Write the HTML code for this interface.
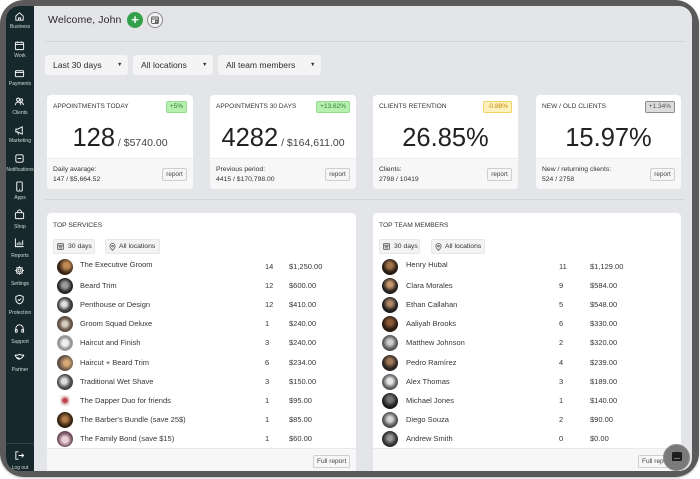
<!DOCTYPE html>
<html><head><meta charset="utf-8"><style>
*{box-sizing:border-box;margin:0;padding:0}
html,body{width:700px;height:479px;overflow:hidden;background:#fff;font-family:"Liberation Sans",Arial,sans-serif;color:#2a2a2a}
.frame{position:absolute;left:0;top:0;width:699px;height:477px;background:#5a5a5a;border-radius:24px;box-shadow:0 1px 2px rgba(0,0,0,.25)}
.screen{position:absolute;left:6px;top:6px;width:686px;height:465px;border-radius:13px;overflow:hidden;background:#e4e5e8}
.abs{position:absolute;left:-6px;top:-6px;width:700px;height:479px}
.a{position:absolute}
.side{position:absolute;left:6px;top:0;width:28px;height:479px;background:#16282b}
.si{position:absolute;left:6px;width:28px;text-align:center;font-size:5px;color:#d4dada;line-height:6px;white-space:nowrap}
.ic{position:absolute;left:14px;width:11px;height:11px}
.hl{position:absolute;left:45px;width:640px;height:1px;background:#d3d4d7}
.dd{position:absolute;top:55px;height:20px;background:#f4f4f5;border-radius:3px;font-size:8.6px;line-height:20px;padding-left:8px;color:#2e2e2e}
.dd i{position:absolute;top:0;font-style:normal;font-size:5.5px;color:#333}
.card{position:absolute;top:95px;width:146px;height:94px;background:#fff;border-radius:4px;overflow:hidden}
.card .t{position:absolute;left:6px;top:7px;font-size:6.5px;line-height:9px;color:#333;letter-spacing:.05px}
.badge{position:absolute;right:6px;top:6px;height:12px;font-size:6.5px;line-height:10px;padding:0 3px;border-radius:2px;border:1px solid}
.big{position:absolute;left:0;top:28px;width:100%;text-align:center;font-size:25.5px;line-height:30px;color:#222;white-space:nowrap}
.big span{font-size:10.5px;color:#444}
.cf{position:absolute;left:0;top:63px;width:100%;height:31px;background:#f7f7f8;border-top:1px solid #ededee}
.cf .l{position:absolute;left:6px;top:6px;font-size:6.8px;line-height:10px;color:#333}
.rep{position:absolute;right:6px;top:9px;width:25px;height:13px;border:1px solid #cfcfd1;background:#f5f5f6;border-radius:2px;font-size:6.3px;line-height:11px;text-align:center;color:#444}
.panel{position:absolute;top:213px;height:270px;background:#fff;border-radius:4px;overflow:hidden}
.ptitle{position:absolute;left:6px;top:7px;font-size:6.7px;line-height:11px;color:#333}
.chip{position:absolute;top:26px;height:15px;background:#f3f3f4;border:1px solid #e7e7e9;border-radius:2px;font-size:6.8px;line-height:13px;color:#333;white-space:nowrap}
.pf{position:absolute;left:0;top:235px;width:100%;height:40px;background:#f7f7f8;border-top:1px solid #e9e9ea}
.fr{position:absolute;top:6px;height:13px;border:1px solid #cfcfd1;background:#f7f7f8;border-radius:2px;font-size:6.5px;line-height:11px;padding:0 3px;color:#444;white-space:nowrap}
.av{position:absolute;width:16px;height:16px;border-radius:50%}
.rt{position:absolute;font-size:7.5px;line-height:12px;color:#353535;white-space:nowrap}
</style></head><body>
<div class="frame"></div>
<div class="screen"><div class="abs">

<!-- sidebar -->
<div class="side"></div>
<div class="a" style="left:6px;top:443px;width:28px;height:1px;background:#304245"></div>

<svg class="ic" style="top:11px" viewBox="0 0 12 12" fill="none" stroke="#fff" stroke-width="1"><path d="M2 5.5L6 2l4 3.5V10H2z"/><path d="M5 10V7.5h2V10"/></svg>
<div class="si" style="top:24px">Business</div>
<svg class="ic" style="top:40px" viewBox="0 0 12 12" fill="none" stroke="#fff" stroke-width="1"><rect x="1.5" y="2.5" width="9" height="8" rx="1"/><path d="M1.5 5h9M4 1.5v2M8 1.5v2"/></svg>
<div class="si" style="top:52.5px">Work</div>
<svg class="ic" style="top:68px" viewBox="0 0 12 12" fill="none" stroke="#fff" stroke-width="1"><rect x="1.5" y="3" width="9" height="6.5" rx="1"/><path d="M1.5 5h9"/></svg>
<div class="si" style="top:81px">Payments</div>
<svg class="ic" style="top:96px" viewBox="0 0 12 12" fill="none" stroke="#fff" stroke-width="1"><circle cx="4.5" cy="4" r="1.7"/><circle cx="8" cy="4.5" r="1.4"/><path d="M1.5 10c0-2 1.3-3.3 3-3.3S7.5 8 7.5 10M7 7c2 0 3.3 1 3.3 3"/></svg>
<div class="si" style="top:109.5px">Clients</div>
<svg class="ic" style="top:125px" viewBox="0 0 12 12" fill="none" stroke="#fff" stroke-width="1"><path d="M2 4.5h2l5-2.5v8L4 7.5H2z"/><path d="M4 7.5l1 3"/></svg>
<div class="si" style="top:138px">Marketing</div>
<svg class="ic" style="top:153px" viewBox="0 0 12 12" fill="none" stroke="#fff" stroke-width="1"><rect x="2" y="2" width="8" height="8" rx="1.5"/><path d="M4 6h4"/></svg>
<div class="si" style="top:167px">Notifications</div>
<svg class="ic" style="top:181px" viewBox="0 0 12 12" fill="none" stroke="#fff" stroke-width="1"><rect x="3" y="1" width="6" height="10" rx="1"/><path d="M5.5 9.3h1"/></svg>
<div class="si" style="top:195px">Apps</div>
<svg class="ic" style="top:209px" viewBox="0 0 12 12" fill="none" stroke="#fff" stroke-width="1"><rect x="1.5" y="4" width="9" height="6.5" rx="1"/><path d="M4 4V3a2 2 0 014 0v1"/></svg>
<div class="si" style="top:224px">Shop</div>
<svg class="ic" style="top:237px" viewBox="0 0 12 12" fill="none" stroke="#fff" stroke-width="1"><path d="M1.5 1.5v9h9"/><path d="M3.5 9V6.5M5.5 9V5M7.5 9V6M9.5 9V3.5"/></svg>
<div class="si" style="top:253px">Reports</div>
<svg class="ic" style="top:265px" viewBox="0 0 12 12" fill="none" stroke="#fff" stroke-width="1"><circle cx="6" cy="6" r="1.7"/><path d="M6 1.3v1.5M6 9.2v1.5M1.3 6h1.5M9.2 6h1.5M2.7 2.7l1 1M8.3 8.3l1 1M2.7 9.3l1-1M8.3 3.7l1-1"/><circle cx="6" cy="6" r="3.4"/></svg>
<div class="si" style="top:281px">Settings</div>
<svg class="ic" style="top:294px" viewBox="0 0 12 12" fill="none" stroke="#fff" stroke-width="1"><path d="M6 1.2l4 1.6v3c0 2.5-1.8 4.2-4 5-2.2-.8-4-2.5-4-5v-3z"/><path d="M4.3 6l1.2 1.2L7.8 5"/></svg>
<div class="si" style="top:310px">Protection</div>
<svg class="ic" style="top:323px" viewBox="0 0 12 12" fill="none" stroke="#fff" stroke-width="1"><path d="M2 8V6a4 4 0 018 0v2"/><rect x="1.5" y="7" width="2" height="3" rx=".5"/><rect x="8.5" y="7" width="2" height="3" rx=".5"/></svg>
<div class="si" style="top:339px">Support</div>
<svg class="ic" style="top:351px" viewBox="0 0 12 12" fill="none" stroke="#fff" stroke-width="1"><path d="M1 4.5h3l2-1 2 1h3M1 4.5l2 3 2 1.5 2-.5 2-1.5 2-2.5M4 7l2 1.5"/></svg>
<div class="si" style="top:367px">Partner</div>
<svg class="ic" style="top:450px" viewBox="0 0 12 12" fill="none" stroke="#fff" stroke-width="1"><path d="M5 2H2v8h3M5 6h5.5M8.5 4l2 2-2 2"/></svg>
<div class="si" style="top:465px">Log out</div>

<!-- header -->
<div class="a" style="left:48px;top:13px;font-size:10.5px;line-height:14px;color:#2a2a2a;letter-spacing:.1px">Welcome, John</div>
<div class="a" style="left:127px;top:12px;width:16px;height:16px;border-radius:50%;background:#33a04a;color:#fff;font-size:13px;line-height:15px;text-align:center;font-weight:bold">+</div>
<div class="a" style="left:147px;top:12px;width:16px;height:16px;border-radius:50%;background:#f2f2f3;border:1px solid #8a8a8a"></div>
<svg class="a" style="left:151px;top:16px;width:8px;height:8px" viewBox="0 0 8 8" fill="none" stroke="#555" stroke-width=".9"><rect x=".6" y="1" width="6.8" height="6.4" rx=".6"/><path d="M.6 3h6.8M4.5 4.5h2v2h-2z"/></svg>
<div class="hl" style="top:41px"></div>

<div class="dd" style="left:45px;width:83px">Last 30 days<i style="left:72px">&#9660;</i></div>
<div class="dd" style="left:133px;width:80px">All locations<i style="left:69px">&#9660;</i></div>
<div class="dd" style="left:218px;width:103px">All team members<i style="left:92px">&#9660;</i></div>

<!-- cards -->
<div class="card" style="left:47px">
 <div class="t">APPOINTMENTS TODAY</div>
 <div class="badge" style="background:#b7efb1;border-color:#95dc8f;color:#2f7d2f">+5%</div>
 <div class="big">128<span> / $5740.00</span></div>
 <div class="cf"><div class="l">Daily avarage:<br>147 / $5,664.52</div><div class="rep">report</div></div>
</div>
<div class="card" style="left:210px">
 <div class="t">APPOINTMENTS 30 DAYS</div>
 <div class="badge" style="background:#b7efb1;border-color:#95dc8f;color:#2f7d2f">+13.62%</div>
 <div class="big">4282<span> / $164,611.00</span></div>
 <div class="cf"><div class="l">Previous period:<br>4415 / $170,798.00</div><div class="rep">report</div></div>
</div>
<div class="card" style="left:373px;width:145px">
 <div class="t">CLIENTS RETENTION</div>
 <div class="badge" style="background:#fdf1bd;border-color:#f0d466;color:#c9850a">-0.88%</div>
 <div class="big">26.85%</div>
 <div class="cf"><div class="l">Clients:<br>2798 / 10419</div><div class="rep">report</div></div>
</div>
<div class="card" style="left:536px;width:145px">
 <div class="t">NEW / OLD CLIENTS</div>
 <div class="badge" style="background:#dcdcdd;border-color:#8d8d8d;color:#555">+1.34%</div>
 <div class="big">15.97%</div>
 <div class="cf"><div class="l">New / returning clients:<br>524 / 2758</div><div class="rep">report</div></div>
</div>

<div class="hl" style="top:199px"></div>

<!-- panels -->
<div class="panel" style="left:47px;width:309px">
 <div class="ptitle">TOP SERVICES</div>
 <div class="chip" style="left:6px;width:42px"><svg style="position:absolute;left:3px;top:3px;width:7px;height:7px" viewBox="0 0 8 8" fill="none" stroke="#555" stroke-width=".9"><rect x=".6" y=".8" width="6.8" height="6.4" rx=".5"/><path d="M.6 2.6h6.8M2 4h4M2 5.6h4"/></svg><span style="position:absolute;left:14px">30 days</span></div>
 <div class="chip" style="left:58px;width:55px"><svg style="position:absolute;left:3px;top:2.5px;width:7px;height:8px" viewBox="0 0 8 9" fill="none" stroke="#555" stroke-width=".9"><path d="M4 8.3S1 5.5 1 3.5a3 3 0 016 0C7 5.5 4 8.3 4 8.3z"/><circle cx="4" cy="3.5" r="1"/></svg><span style="position:absolute;left:13px">All locations</span></div>
 <div class="pf"><div class="fr" style="left:266px">Full report</div></div>
</div>
<div class="panel" style="left:373px;width:308px">
 <div class="ptitle">TOP TEAM MEMBERS</div>
 <div class="chip" style="left:6px;width:41px"><svg style="position:absolute;left:3px;top:3px;width:7px;height:7px" viewBox="0 0 8 8" fill="none" stroke="#555" stroke-width=".9"><rect x=".6" y=".8" width="6.8" height="6.4" rx=".5"/><path d="M.6 2.6h6.8M2 4h4M2 5.6h4"/></svg><span style="position:absolute;left:14px">30 days</span></div>
 <div class="chip" style="left:58px;width:54px"><svg style="position:absolute;left:3px;top:2.5px;width:7px;height:8px" viewBox="0 0 8 9" fill="none" stroke="#555" stroke-width=".9"><path d="M4 8.3S1 5.5 1 3.5a3 3 0 016 0C7 5.5 4 8.3 4 8.3z"/><circle cx="4" cy="3.5" r="1"/></svg><span style="position:absolute;left:13px">All locations</span></div>
 <div class="pf"><div class="fr" style="left:265px">Full report</div></div>
</div>

<!-- services rows -->
<div class="av" style="left:57px;top:259px;background:radial-gradient(circle at 60% 40%,#c08a55 0 20%,#3b2616 55%,#1d130c)"></div>
<div class="av" style="left:57px;top:278px;background:radial-gradient(circle at 50% 45%,#9a9a9a 0 22%,#2b2b2b 55%,#151515)"></div>
<div class="av" style="left:57px;top:297px;background:radial-gradient(circle at 45% 45%,#e0e0e0 0 18%,#444 50%,#1a1a1a)"></div>
<div class="av" style="left:57px;top:316px;background:radial-gradient(circle at 50% 50%,#d8cfc4 0 20%,#6e5c4e 50%,#3a2f28)"></div>
<div class="av" style="left:57px;top:335px;background:radial-gradient(circle at 50% 50%,#f0f0f0 0 25%,#8d8d8d 55%,#e5e5e5)"></div>
<div class="av" style="left:57px;top:355px;background:radial-gradient(circle at 60% 50%,#d7a774 0 20%,#6d5a4a 55%,#3a3a3a)"></div>
<div class="av" style="left:57px;top:374px;background:radial-gradient(circle at 45% 45%,#ddd 0 20%,#555 50%,#1e1e1e)"></div>
<div class="av" style="left:60px;top:395px;width:10px;height:11px;border-radius:2px;background:radial-gradient(circle at 50% 50%,#c0404a 0 25%,#e8d8d8 55%,#fff)"></div>
<div class="av" style="left:57px;top:412px;background:radial-gradient(circle at 50% 45%,#b07b48 0 18%,#3a2512 55%,#1c120a)"></div>
<div class="av" style="left:57px;top:431px;background:radial-gradient(circle at 50% 55%,#e9d0d4 0 25%,#7e5a6a 55%,#2e2030)"></div>

<div class="rt" style="left:80px;top:262px;height:10px;overflow:hidden;line-height:8px"><span style="position:relative;top:-1px">The Executive Groom</span></div><div class="rt" style="left:265px;top:261px">14</div><div class="rt" style="left:289px;top:261px">$1,250.00</div>
<div class="rt" style="left:80px;top:280px">Beard Trim</div><div class="rt" style="left:265px;top:280px">12</div><div class="rt" style="left:289px;top:280px">$600.00</div>
<div class="rt" style="left:80px;top:299px">Penthouse or Design</div><div class="rt" style="left:265px;top:299px">12</div><div class="rt" style="left:289px;top:299px">$410.00</div>
<div class="rt" style="left:80px;top:318px">Groom Squad Deluxe</div><div class="rt" style="left:265px;top:318px">1</div><div class="rt" style="left:289px;top:318px">$240.00</div>
<div class="rt" style="left:80px;top:337px">Haircut and Finish</div><div class="rt" style="left:265px;top:337px">3</div><div class="rt" style="left:289px;top:337px">$240.00</div>
<div class="rt" style="left:80px;top:357px">Haircut + Beard Trim</div><div class="rt" style="left:265px;top:357px">6</div><div class="rt" style="left:289px;top:357px">$234.00</div>
<div class="rt" style="left:80px;top:376px">Traditional Wet Shave</div><div class="rt" style="left:265px;top:376px">3</div><div class="rt" style="left:289px;top:376px">$150.00</div>
<div class="rt" style="left:80px;top:395px">The Dapper Duo for friends</div><div class="rt" style="left:265px;top:395px">1</div><div class="rt" style="left:289px;top:395px">$95.00</div>
<div class="rt" style="left:80px;top:414px">The Barber's Bundle (save 25$)</div><div class="rt" style="left:265px;top:414px">1</div><div class="rt" style="left:289px;top:414px">$85.00</div>
<div class="rt" style="left:80px;top:433px">The Family Bond (save $15)</div><div class="rt" style="left:265px;top:433px">1</div><div class="rt" style="left:289px;top:433px">$60.00</div>

<!-- team rows -->
<div class="av" style="left:382px;top:259px;background:radial-gradient(circle at 50% 40%,#a0724a 0 20%,#2a1c14 55%,#141010)"></div>
<div class="av" style="left:382px;top:278px;background:radial-gradient(circle at 50% 40%,#c89870 0 18%,#2a2320 55%,#121212)"></div>
<div class="av" style="left:382px;top:297px;background:radial-gradient(circle at 50% 40%,#b08868 0 18%,#222 55%,#101010)"></div>
<div class="av" style="left:382px;top:316px;background:radial-gradient(circle at 50% 40%,#8a5a36 0 20%,#2c1e15 55%,#151010)"></div>
<div class="av" style="left:382px;top:335px;background:radial-gradient(circle at 50% 45%,#cfcfcf 0 20%,#5e5e5e 55%,#2a2a2a)"></div>
<div class="av" style="left:382px;top:355px;background:radial-gradient(circle at 50% 40%,#a27a5a 0 18%,#2e2622 55%,#151515)"></div>
<div class="av" style="left:382px;top:374px;background:radial-gradient(circle at 50% 45%,#e5e5e5 0 22%,#666 55%,#2b2b2b)"></div>
<div class="av" style="left:382px;top:393px;background:radial-gradient(circle at 50% 40%,#777 0 18%,#222 55%,#0e0e0e)"></div>
<div class="av" style="left:382px;top:412px;background:radial-gradient(circle at 50% 45%,#d5d5d5 0 20%,#5a5a5a 55%,#2a2a2a)"></div>
<div class="av" style="left:382px;top:431px;background:radial-gradient(circle at 50% 45%,#999 0 18%,#333 55%,#161616)"></div>

<div class="rt" style="left:406px;top:262px;height:10px;overflow:hidden;line-height:8px"><span style="position:relative;top:-1px">Henry Hubal</span></div><div class="rt" style="left:559px;top:261px">11</div><div class="rt" style="left:590px;top:261px">$1,129.00</div>
<div class="rt" style="left:406px;top:280px">Clara Morales</div><div class="rt" style="left:559px;top:280px">9</div><div class="rt" style="left:590px;top:280px">$584.00</div>
<div class="rt" style="left:406px;top:299px">Ethan Callahan</div><div class="rt" style="left:559px;top:299px">5</div><div class="rt" style="left:590px;top:299px">$548.00</div>
<div class="rt" style="left:406px;top:318px">Aaliyah Brooks</div><div class="rt" style="left:559px;top:318px">6</div><div class="rt" style="left:590px;top:318px">$330.00</div>
<div class="rt" style="left:406px;top:337px">Matthew Johnson</div><div class="rt" style="left:559px;top:337px">2</div><div class="rt" style="left:590px;top:337px">$320.00</div>
<div class="rt" style="left:406px;top:357px">Pedro Ramírez</div><div class="rt" style="left:559px;top:357px">4</div><div class="rt" style="left:590px;top:357px">$239.00</div>
<div class="rt" style="left:406px;top:376px">Alex Thomas</div><div class="rt" style="left:559px;top:376px">3</div><div class="rt" style="left:590px;top:376px">$189.00</div>
<div class="rt" style="left:406px;top:395px">Michael Jones</div><div class="rt" style="left:559px;top:395px">1</div><div class="rt" style="left:590px;top:395px">$140.00</div>
<div class="rt" style="left:406px;top:414px">Diego Souza</div><div class="rt" style="left:559px;top:414px">2</div><div class="rt" style="left:590px;top:414px">$90.00</div>
<div class="rt" style="left:406px;top:433px">Andrew Smith</div><div class="rt" style="left:559px;top:433px">0</div><div class="rt" style="left:590px;top:433px">$0.00</div>

<!-- chat bubble -->
<div class="a" style="left:663px;top:444px;width:27px;height:27px;border-radius:50%;background:#7a7a7a;border:1px solid #8e8e8e"></div>
<div class="a" style="left:672px;top:452px;width:10px;height:9px;background:#1e1e1e;border-radius:1.5px 1.5px 1.5px 0"></div>
<div class="a" style="left:674px;top:458px;width:6px;height:1px;background:#777"></div>

</div></div>
</body></html>
